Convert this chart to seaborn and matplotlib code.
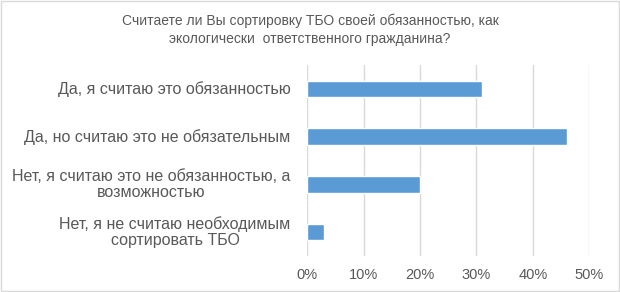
import matplotlib
matplotlib.use("Agg")
import matplotlib.pyplot as plt
import matplotlib.patches as mpatches
import matplotlib.transforms as mtransforms
from matplotlib.ticker import PercentFormatter
import pandas as pd
import seaborn as sns

# данные опроса
answers = [
    "Да, я считаю это обязанностью",
    "Да, но считаю это не обязательным",
    "Нет, я считаю это не обязанностью, а\nвозможностью",
    "Нет, я не считаю необходимым\nсортировать ТБО",
]
shares = [31, 46, 20, 3]
title = "Считаете ли Вы сортировку ТБО своей обязанностью, как\nэкологически  ответственного гражданина?"

df = pd.DataFrame({"answer": answers, "share": shares})

sns.set_style("white")
plt.rcParams["font.family"] = ["Liberation Sans", "DejaVu Sans"]

fig = plt.figure(figsize=(6.2, 2.92), dpi=100)
ax = fig.add_axes([0.4956, 0.1233, 0.4549, 0.6541])

sns.barplot(data=df, x="share", y="answer", orient="h", color="#5B9BD5",
            width=0.35, saturation=1, ax=ax)

ax.set_xlim(0, 50)
ax.set_xticks(range(0, 51, 10))
ax.xaxis.set_major_formatter(PercentFormatter(decimals=0))
ax.grid(axis="x", color="#D9D9D9", linewidth=1.0)
ax.set_axisbelow(True)
for s in ax.spines.values():
    s.set_visible(False)
ax.tick_params(axis="both", length=0, colors="#595959")
ax.tick_params(axis="x", pad=9, labelsize=10.5)
ax.set_yticklabels([])
ax.set_xlabel("")
ax.set_ylabel("")

# подписи категорий: строки по центру друг под другом
trans = mtransforms.blended_transform_factory(ax.transAxes, ax.transData)
off = mtransforms.ScaledTranslation(-12 / 72, 0, fig.dpi_scale_trans)
for i, a in enumerate(answers):
    ax.text(0, i, a, transform=trans + off, ha="right", va="center",
            multialignment="center", fontsize=11.5, color="#595959",
            linespacing=1.1)

fig.text(0.5, 0.955, title, ha="center", va="top", fontsize=10,
         color="#595959", linespacing=1.4)

fig.patches.append(mpatches.Rectangle((0.001, 0.004), 0.997, 0.993,
                                      transform=fig.transFigure, fill=False,
                                      edgecolor="#D9D9D9", linewidth=1.0))

fig.savefig("out.png", dpi=100)
